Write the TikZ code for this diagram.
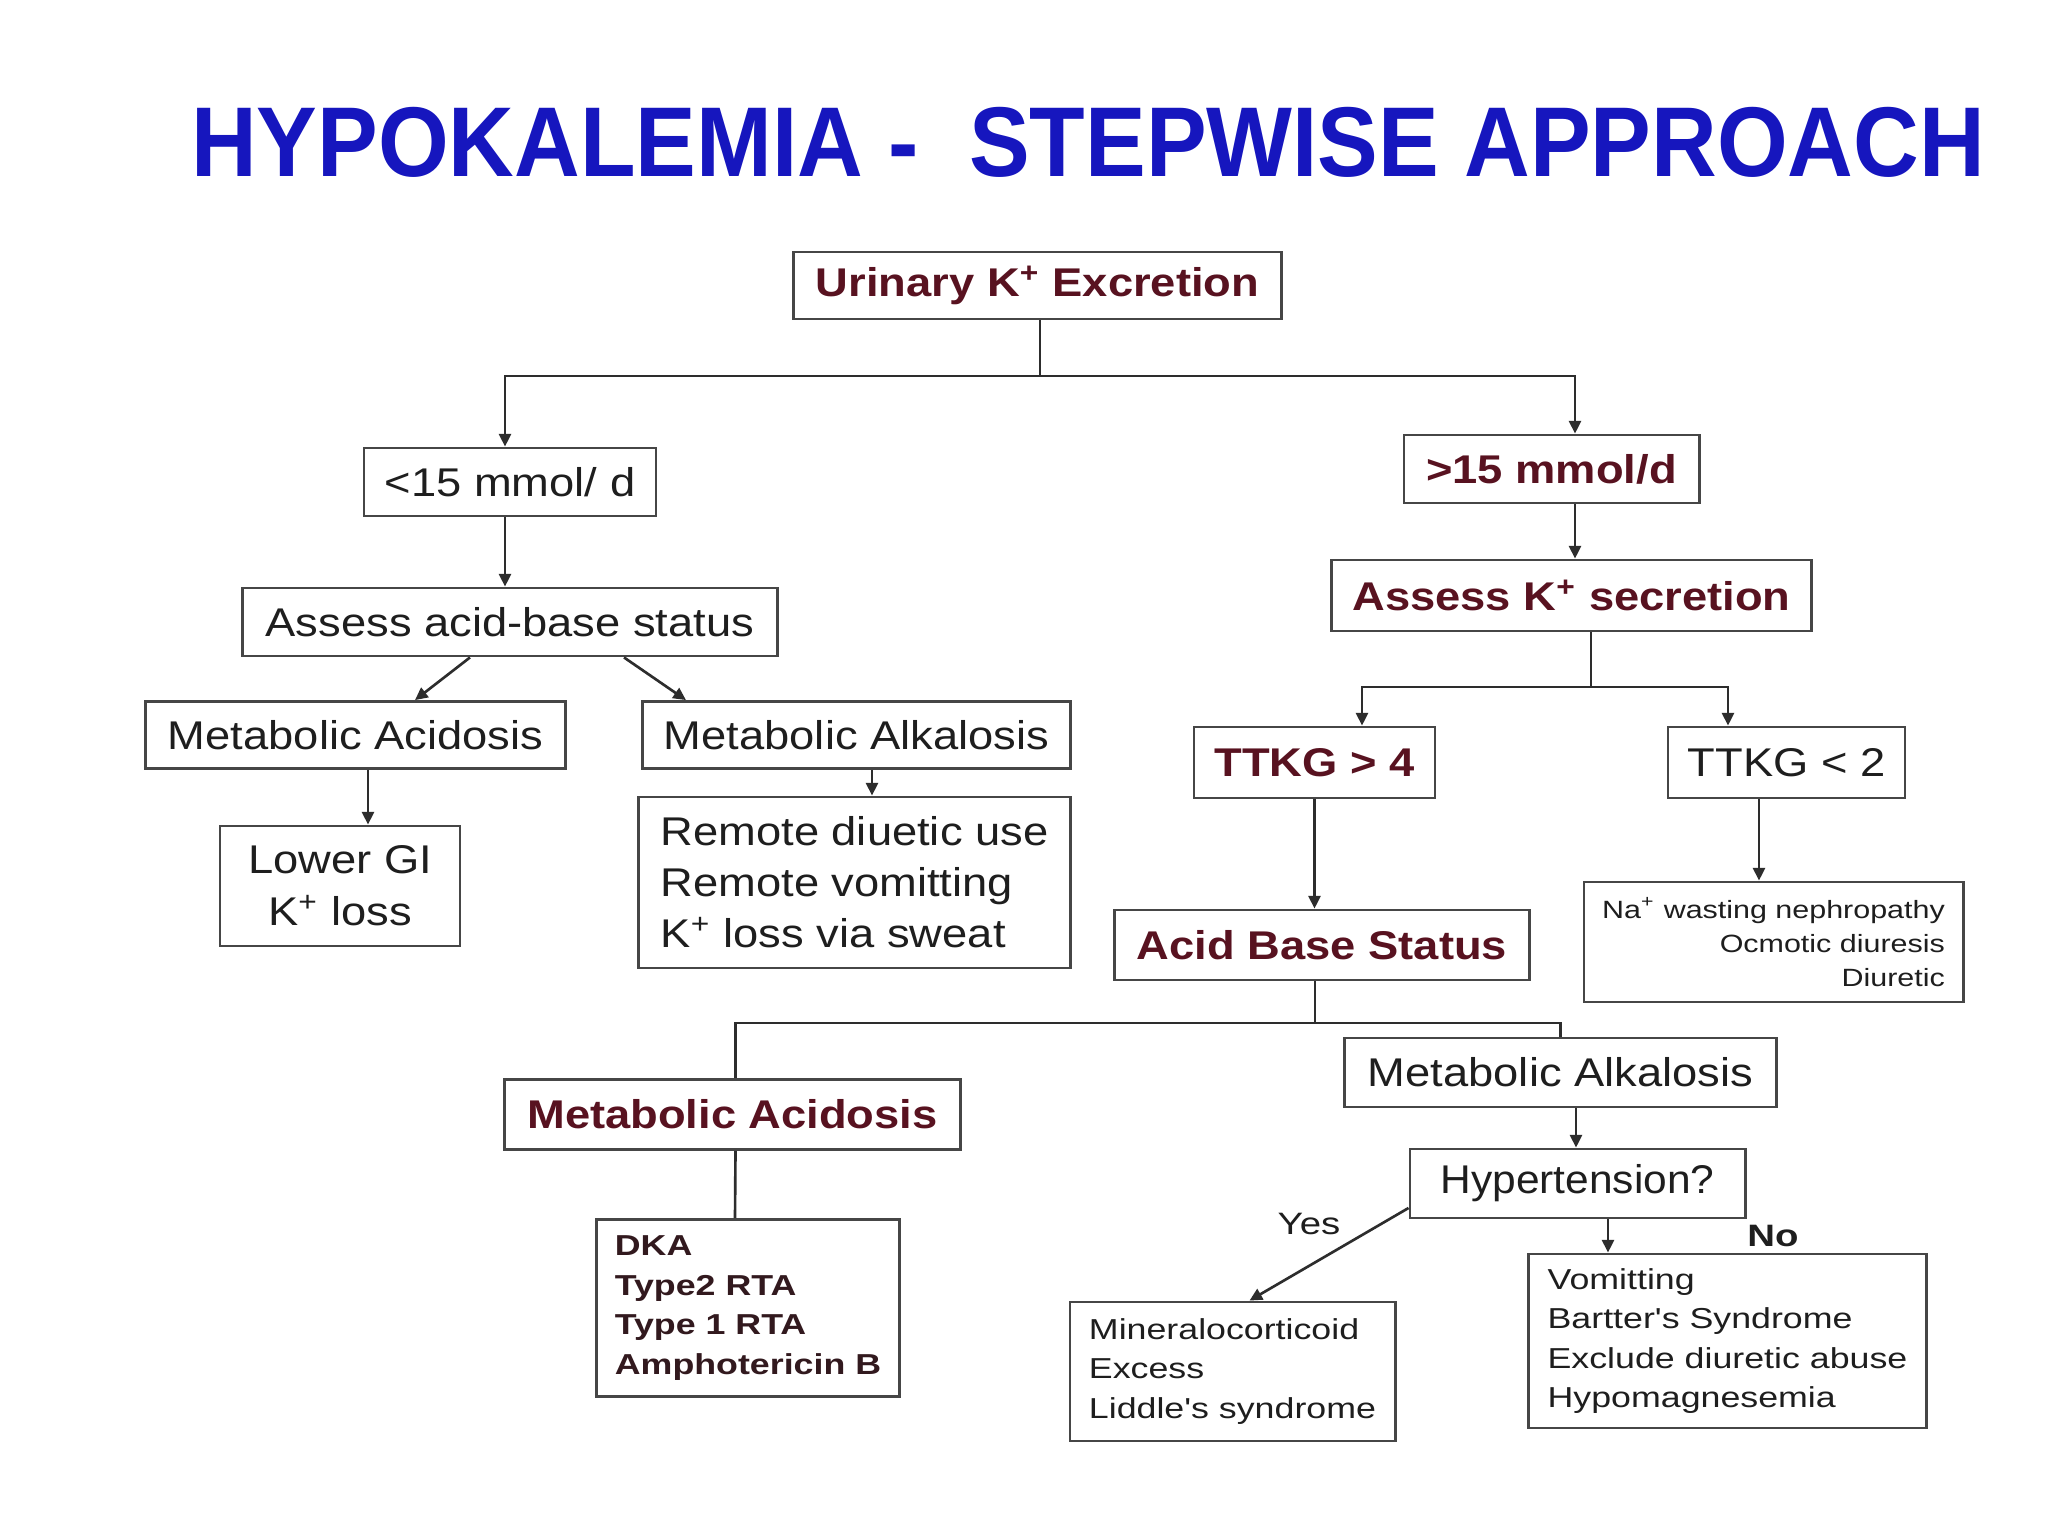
\documentclass[tikz,border=0pt]{standalone}
\usepackage{fontspec}
\setmainfont{Liberation Sans}
\newfontfamily\fmain[FakeStretch=1.13]{Liberation Sans}
\newfontfamily\fsmall[FakeStretch=1.24]{Liberation Sans}
\newfontfamily\fna[FakeStretch=1.22]{Liberation Sans}
\newfontfamily\fhyp[FakeStretch=1.06]{Liberation Sans}
\newfontfamily\ftitle[FakeStretch=0.917]{Liberation Sans}
\usetikzlibrary{arrows.meta,calc}
\definecolor{titleblue}{RGB}{22,22,190}
\definecolor{maroon}{RGB}{88,18,32}
\definecolor{dkared}{RGB}{50,25,30}
\definecolor{ink}{RGB}{30,30,30}
\definecolor{edge}{RGB}{70,70,70}
\definecolor{wirec}{RGB}{45,45,45}
\begin{document}
\begin{tikzpicture}[x=0.01cm,y=-0.01cm,
  box/.style={draw=edge,line width=0.8pt,fill=white,inner sep=0pt,align=center,text=ink,
    font=\fmain\fontsize{11.4}{14.6}\selectfont},
  hot/.style={box,text=maroon,font=\fmain\bfseries\fontsize{11.4}{14}\selectfont},
  small/.style={box,align=left,font=\fsmall\fontsize{8.2}{11.2}\selectfont},
  wire/.style={draw=wirec,line width=0.75pt},
  arr/.style={wire,-{Triangle[length=3.6pt,width=3.4pt]}},
  lbl/.style={text=ink,inner sep=0pt,font=\fsmall\fontsize{8.8}{10}\selectfont}
]
\useasboundingbox[fill=white] (0,0) rectangle (2048,1536);

% title
\node[anchor=base,text=titleblue,inner sep=0pt,font=\ftitle\bfseries\fontsize{28.2}{30}\selectfont]
  (title) at (1088,176) {HYPOKALEMIA -\ \ STEPWISE APPROACH};

% nodes
\node[hot,minimum width=4.87cm,minimum height=0.67cm] (uke) at (1037.5,285.5) {Urinary K\textsuperscript{+} Excretion};
\node[box,minimum width=2.92cm,minimum height=0.68cm] (lt15) at (510,482) {<15 mmol/ d};
\node[box,minimum width=5.34cm,minimum height=0.68cm] (aab) at (510,622) {Assess acid-base status};
\node[box,minimum width=4.2cm,minimum height=0.67cm] (macL) at (355.5,735) {Metabolic Acidosis};
\node[box,minimum width=4.27cm,minimum height=0.67cm] (malkL) at (856.5,735) {Metabolic Alkalosis};
\node[box,minimum width=2.4cm,minimum height=1.2cm,font=\fmain\fontsize{11.4}{14.8}\selectfont] (lgi) at (340,886) {Lower GI\\K\textsuperscript{+} loss};
\node[box,align=left,minimum width=4.31cm,minimum height=1.71cm,font=\fmain\fontsize{11.4}{14.5}\selectfont] (remote) at (854.5,882.5) {Remote diuetic use\\Remote vomitting\\K\textsuperscript{+} loss via sweat};
\node[hot,minimum width=2.95cm,minimum height=0.68cm] (gt15) at (1551.5,469) {>15 mmol/d};
\node[hot,minimum width=4.79cm,minimum height=0.71cm] (aks) at (1571.5,595.5) {Assess K\textsuperscript{+} secretion};
\node[hot,minimum width=2.41cm,minimum height=0.71cm] (t4) at (1314.5,762.5) {TTKG > 4};
\node[box,minimum width=2.37cm,minimum height=0.71cm] (t2) at (1786.5,762.5) {TTKG < 2};
\node[hot,minimum width=4.14cm,minimum height=0.70cm] (abs) at (1322,945) {Acid Base Status};
\node[box,align=right,minimum width=3.79cm,minimum height=1.2cm,font=\fna\fontsize{7.1}{9.7}\selectfont] (na) at (1773.5,942) {Na\textsuperscript{+} wasting nephropathy\\Ocmotic diuresis\\Diuretic};
\node[hot,minimum width=4.55cm,minimum height=0.70cm] (macB) at (732.5,1114.5) {Metabolic Acidosis};
\node[small,text=dkared,font=\fsmall\bfseries\fontsize{8.2}{11.3}\selectfont,minimum width=3.03cm,minimum height=1.77cm] (dka) at (748,1308) {DKA\\Type2 RTA\\Type 1 RTA\\Amphotericin B};
\node[box,minimum width=4.31cm,minimum height=0.69cm] (malkB) at (1560.5,1072.5) {Metabolic Alkalosis};
\node[box,minimum width=3.35cm,minimum height=0.69cm,font=\fhyp\fontsize{11.4}{14}\selectfont] (hyp) at (1577.5,1183.5) {Hypertension?};
\node[small,minimum width=3.25cm,minimum height=1.39cm] (mineral) at (1232.5,1371.5) {Mineralocorticoid\\Excess\\Liddle's syndrome};
\node[small,minimum width=3.97cm,minimum height=1.74cm] (vom) at (1727.5,1341) {Vomitting\\Bartter's Syndrome\\Exclude diuretic abuse\\Hypomagnesemia};

\node[lbl] (yes) at (1309,1224) {Yes};
\node[lbl,font=\fsmall\bfseries\fontsize{8.8}{10}\selectfont] (no) at (1773,1236) {No};

% connectors
\coordinate (j1) at (1040,376);
\draw[wire] (uke.south -| j1) -- (j1);
\draw[arr] (j1) -| ($(lt15.north)+(-5,0)$);
\draw[arr] (j1) -| ($(gt15.north)+(23.5,0)$);
\draw[arr] ($(lt15.south)+(-5,0)$) -- ($(aab.north)+(-5,0)$);
\draw[arr] ($(aab.south)+(-40,0)$) -- ($(macL.north)+(59.5,0)$);
\draw[arr] ($(aab.south)+(114,0)$) -- ($(malkL.north)+(-170.5,0)$);
\draw[arr] ($(macL.south)+(12.5,0)$) -- ($(lgi.north)+(28,0)$);
\draw[arr] ($(malkL.south)+(15.5,0)$) -- ($(remote.north)+(17.5,0)$);
\draw[arr] ($(gt15.south)+(23.5,0)$) -- ($(aks.north)+(3.5,0)$);
\coordinate (j2) at (1591,687);
\draw[wire] (aks.south -| j2) -- (j2);
\draw[arr] (j2) -| ($(t4.north)+(47.5,0)$);
\draw[arr] (j2) -| ($(t2.north)+(-58.5,0)$);
\draw[arr] (t4.south) -- (t4.south |- abs.north);
\draw[arr] ($(t2.south)+(-27.5,0)$) -- ($(na.north)+(-14.5,0)$);
\coordinate (j3) at (1315,1023);
\draw[wire] (abs.south -| j3) -- (j3);
\draw[wire] (j3) -| ($(macB.north)+(3,0)$);
\draw[wire] (j3) -| (malkB.north);
\draw[wire] ($(macB.south)+(3,0)$) -- ($(dka.north)+(-13,0)$);
\draw[arr] ($(malkB.south)+(15.5,0)$) -- ($(hyp.north)+(-1.5,0)$);
\draw[arr] ($(hyp.west)+(0,24.5)$) -- ($(mineral.north)+(17,0)$);
\draw[arr] ($(hyp.south)+(30.5,0)$) -- ($(vom.north)+(-119.5,0)$);
\end{tikzpicture}
\end{document}
